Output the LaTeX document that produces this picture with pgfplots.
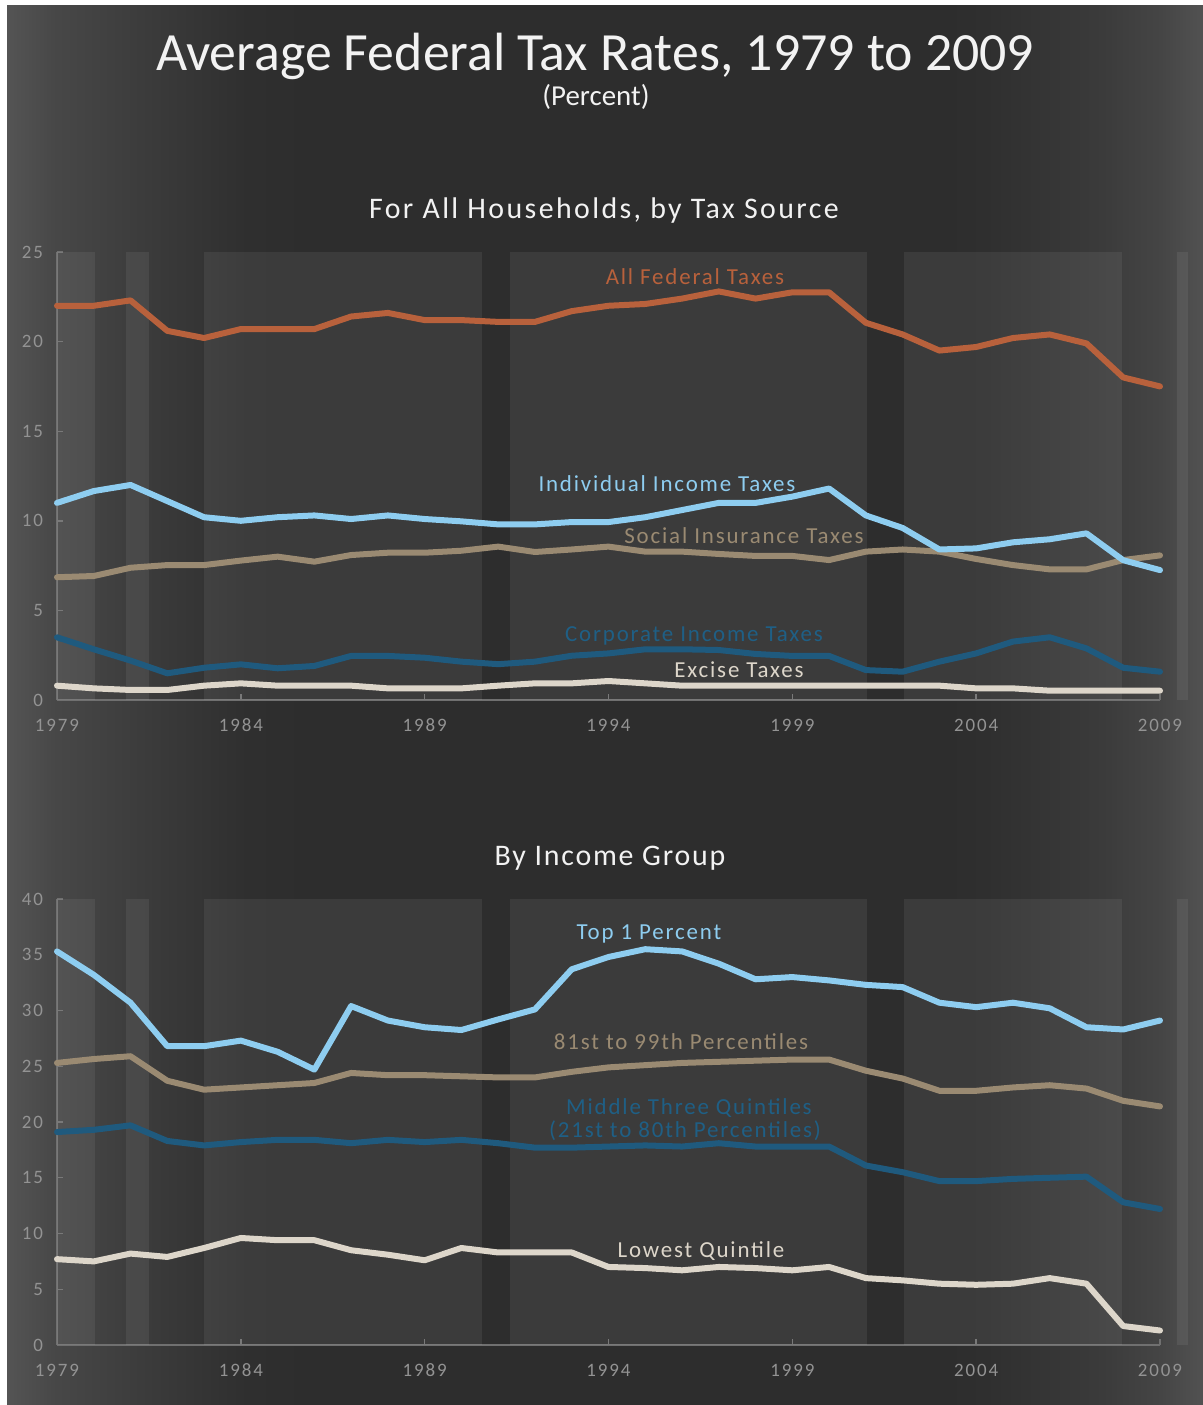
\documentclass[border=0pt]{standalone}
\usepackage{pgfplots}
\pgfplotsset{compat=1.18}
\usepackage{pgfplotstable}
\usepackage{fontspec}
\setmainfont{Carlito}
\newfontfamily\lsfont[LetterSpace=8]{Carlito}
\newfontfamily\subfont[LetterSpace=8]{Carlito}
\newfontfamily\subfontb[LetterSpace=6]{Carlito}
\newfontfamily\tickfont[LetterSpace=10]{Carlito}

\definecolor{afc}{HTML}{B8613C}
\definecolor{iic}{HTML}{8ECDF0}
\definecolor{sic}{HTML}{9A8A72}
\definecolor{cic}{HTML}{1F5A7E}
\definecolor{cil}{HTML}{1F5F85}
\definecolor{exc}{HTML}{DDD6CA}
\definecolor{txt}{HTML}{F2F2F2}
\definecolor{tickgray}{HTML}{939393}
\definecolor{axisgray}{HTML}{707070}

\pgfdeclarehorizontalshading{bgshade}{100bp}{%
color(0bp)=(black!67!white); color(25bp)=(black!67!white);
color(27bp)=(black!72!white); color(31bp)=(black!77!white);
color(35bp)=(black!81.5!white); color(38bp)=(black!82.5!white);
color(64bp)=(black!82.5!white); color(66bp)=(black!81.5!white);
color(70.7bp)=(black!77!white); color(73.2bp)=(black!73!white);
color(75bp)=(black!68!white); color(100bp)=(black!68!white)}

\pgfplotstableread{
year AF II SI CI EX
1979 22.0 11.0 6.85 3.5 0.8
1980 22.0 11.66 6.92 2.83 0.65
1981 22.3 12.0 7.38 2.2 0.56
1982 20.6 11.1 7.53 1.49 0.56
1983 20.2 10.2 7.53 1.8 0.8
1984 20.7 10.0 7.78 1.99 0.93
1985 20.7 10.2 8.0 1.77 0.8
1986 20.7 10.3 7.72 1.9 0.8
1987 21.4 10.1 8.09 2.46 0.8
1988 21.6 10.3 8.22 2.46 0.65
1989 21.2 10.1 8.22 2.36 0.65
1990 21.2 9.97 8.33 2.14 0.65
1991 21.1 9.8 8.56 2.0 0.8
1992 21.1 9.8 8.26 2.14 0.93
1993 21.7 9.93 8.4 2.47 0.93
1994 22.0 9.93 8.56 2.6 1.06
1995 22.1 10.2 8.28 2.83 0.93
1996 22.4 10.6 8.28 2.83 0.8
1997 22.8 11.0 8.15 2.79 0.8
1998 22.4 11.0 8.04 2.57 0.8
1999 22.75 11.35 8.04 2.46 0.8
2000 22.75 11.8 7.81 2.46 0.8
2001 21.05 10.3 8.28 1.67 0.8
2002 20.4 9.6 8.4 1.58 0.8
2003 19.5 8.4 8.28 2.14 0.8
2004 19.7 8.46 7.87 2.6 0.65
2005 20.2 8.8 7.53 3.26 0.65
2006 20.4 8.97 7.29 3.5 0.52
2007 19.9 9.3 7.29 2.88 0.52
2008 18.0 7.8 7.81 1.8 0.52
2009 17.5 7.25 8.07 1.58 0.52
}\sourcetable

\pgfplotstableread{
year T1 P81 MID LOW
1979 35.3 25.3 19.1 7.7
1980 33.2 25.65 19.3 7.5
1981 30.7 25.9 19.7 8.2
1982 26.8 23.7 18.3 7.9
1983 26.8 22.9 17.9 8.7
1984 27.3 23.1 18.2 9.6
1985 26.3 23.3 18.4 9.4
1986 24.7 23.5 18.4 9.4
1987 30.4 24.4 18.1 8.5
1988 29.1 24.2 18.4 8.1
1989 28.5 24.2 18.2 7.6
1990 28.25 24.1 18.4 8.7
1991 29.2 24.0 18.1 8.3
1992 30.1 24.0 17.7 8.3
1993 33.7 24.5 17.7 8.3
1994 34.8 24.9 17.8 7.0
1995 35.5 25.1 17.9 6.9
1996 35.3 25.3 17.8 6.7
1997 34.2 25.4 18.1 7.0
1998 32.8 25.5 17.8 6.9
1999 33.0 25.6 17.8 6.7
2000 32.7 25.6 17.8 7.0
2001 32.3 24.6 16.1 6.0
2002 32.1 23.9 15.5 5.8
2003 30.7 22.8 14.7 5.5
2004 30.3 22.8 14.7 5.4
2005 30.7 23.1 14.9 5.5
2006 30.2 23.3 15.0 6.0
2007 28.5 23.0 15.1 5.5
2008 28.3 21.9 12.8 1.7
2009 29.1 21.4 12.2 1.3
}\incometable

\newcommand{\bands}[1]{%
\fill[white,fill opacity=0.065] (axis cs:1979,0) rectangle (axis cs:1980.03,#1);
\fill[white,fill opacity=0.065] (axis cs:1980.87,0) rectangle (axis cs:1981.49,#1);
\fill[white,fill opacity=0.065] (axis cs:1983.0,0) rectangle (axis cs:1990.56,#1);
\fill[white,fill opacity=0.065] (axis cs:1991.32,0) rectangle (axis cs:2001.03,#1);
\fill[white,fill opacity=0.065] (axis cs:2002.04,0) rectangle (axis cs:2007.97,#1);
\fill[white,fill opacity=0.065] (axis cs:2009.46,0) rectangle (axis cs:2009.76,#1);
}

\pgfplotsset{panel/.style={
  scale only axis, width=551.5bp, xmin=1979, xmax=2009, ymin=0,
  axis x line=bottom, axis y line=left,
  axis line style={draw=axisgray, line width=0.7bp, -},
  xtick={1979,1984,...,2009},
  tick align=inside, major tick length=3bp,
  tick style={draw=axisgray, line width=0.7bp},
  ticklabel style={font=\tickfont\fontsize{9.5}{11}\selectfont, text=tickgray},
  xticklabel style={yshift=-6bp},
  yticklabel style={xshift=-3.5bp},
  /pgf/number format/assume math mode=true,
  /pgf/number format/1000 sep={},
  clip=false,
  every axis plot/.append style={line width=3bp, line join=round, line cap=round, mark=none},
}}

\begin{document}
\begin{tikzpicture}
\fill[white] (0,0) rectangle (601.5bp,-702.5bp);
\shade[shading=bgshade] (3.5bp,-2.5bp) rectangle (601.5bp,-702.5bp);

\begin{axis}[panel, at={(28.5bp,-350bp)}, anchor=south west,
  height=224bp, ymax=25, ytick={0,5,...,25}]
\bands{25}
\addplot[exc] table[x=year,y=EX] {\sourcetable};
\addplot[cic] table[x=year,y=CI] {\sourcetable};
\addplot[sic] table[x=year,y=SI] {\sourcetable};
\addplot[iic] table[x=year,y=II] {\sourcetable};
\addplot[afc] table[x=year,y=AF] {\sourcetable};
\end{axis}

\begin{axis}[panel, at={(28.5bp,-672.5bp)}, anchor=south west,
  height=223bp, ymax=40, ytick={0,5,...,40}]
\bands{40}
\addplot[exc] table[x=year,y=LOW] {\incometable};
\addplot[cic] table[x=year,y=MID] {\incometable};
\addplot[sic] table[x=year,y=P81] {\incometable};
\addplot[iic] table[x=year,y=T1] {\incometable};
\end{axis}

\begin{scope}[x=0.5bp,y=-0.5bp]
\node[anchor=base, text=txt, font=\fontsize{27}{31}\selectfont, inner sep=0] at (595,71) {Average Federal Tax Rates, 1979 to 2009};
\node[anchor=base, text=txt, font=\fontsize{14.5}{16}\selectfont, inner sep=0] at (596,106) {(Percent)};
\node[anchor=base, text=txt, font=\subfont\fontsize{15}{17}\selectfont, inner sep=0] at (604,219) {For All Households, by Tax Source};
\node[anchor=base, text=txt, font=\subfontb\fontsize{15}{17}\selectfont, inner sep=0] at (610,866) {By Income Group};
\node[anchor=base, text=afc, font=\lsfont\fontsize{11.5}{13}\selectfont, inner sep=0] at (695,285) {All Federal Taxes};
\node[anchor=base, text=iic, font=\lsfont\fontsize{11.5}{13}\selectfont, inner sep=0] at (667,492) {Individual Income Taxes};
\node[anchor=base, text=sic, font=\lsfont\fontsize{11.5}{13}\selectfont, inner sep=0] at (744,544) {Social Insurance Taxes};
\node[anchor=base, text=cil, font=\lsfont\fontsize{11.5}{13}\selectfont, inner sep=0] at (694,642) {Corporate Income Taxes};
\node[anchor=base, text=exc, font=\lsfont\fontsize{11.5}{13}\selectfont, inner sep=0] at (739,678) {Excise Taxes};
\node[anchor=base, text=iic, font=\lsfont\fontsize{11.5}{13}\selectfont, inner sep=0] at (649,940) {Top 1 Percent};
\node[anchor=base, text=sic, font=\lsfont\fontsize{11.5}{13}\selectfont, inner sep=0] at (681,1050) {81st to 99th Percentiles};
\node[anchor=base, text=cil, font=\lsfont\fontsize{11.5}{13}\selectfont, inner sep=0] at (689,1115) {Middle Three Quintiles};
\node[anchor=base, text=cil, font=\lsfont\fontsize{11.5}{13}\selectfont, inner sep=0] at (685,1138) {(21st to 80th Percentiles)};
\node[anchor=base, text=exc, font=\lsfont\fontsize{11.5}{13}\selectfont, inner sep=0] at (701,1258) {Lowest Quintile};
\end{scope}
\end{tikzpicture}
\end{document}
